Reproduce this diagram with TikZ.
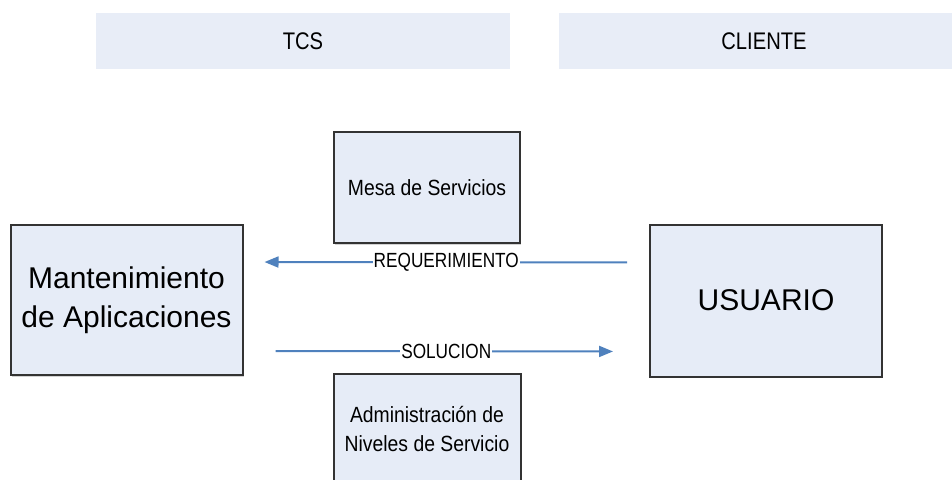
\documentclass[tikz,border=0pt]{standalone}
\usepackage{fontspec}
\setmainfont{Liberation Sans}
\newfontfamily\narrowfont[FakeStretch=0.84]{Liberation Sans}
\newfontfamily\semifont[FakeStretch=0.88]{Liberation Sans}
\usetikzlibrary{positioning, arrows.meta, shadows}

\definecolor{boxfill}{HTML}{E6ECF7}
\definecolor{headfill}{HTML}{E8EDF7}
\definecolor{flowblue}{HTML}{4F81BD}
\definecolor{boxline}{HTML}{333333}

\begin{document}
\begin{tikzpicture}[x=1pt, y=-1pt, >={Triangle[length=14pt, width=11pt]},
    header/.style={fill=headfill, minimum height=56pt, inner sep=0pt, font=\narrowfont\fontsize{24}{28}\selectfont},
    block/.style={draw=boxline, line width=2pt, fill=boxfill, inner sep=0pt, align=center,
        drop shadow={shadow xshift=1pt, shadow yshift=-1.5pt, opacity=0.35}},
    flow/.style={->, draw=flowblue, line width=2pt},
    flowlabel/.style={fill=white, inner sep=1pt, font=\narrowfont\fontsize{20.5}{24}\selectfont}]
    \useasboundingbox (0,0) rectangle (952,479);
    \clip (0,0) rectangle (952,479);
    \node[header, minimum width=414pt] (tcs) at (303,41) {TCS};
    \node[header, minimum width=410pt] (cliente) at (764,41) {CLIENTE};
    \node[block, minimum width=232pt, minimum height=150pt, font=\fontsize{30}{39}\selectfont] (mant) at (126.5,300) {Mantenimiento\\de Aplicaciones};
    \node[block, minimum width=232pt, minimum height=152pt, font=\fontsize{30}{36}\selectfont] (usuario) at (766,300.5) {USUARIO};
    \node[block, minimum width=186pt, minimum height=111pt, font=\semifont\fontsize{22}{26}\selectfont] (mesa) at (427,187.5) {Mesa de Servicios};
    \node[block, below=129pt of mesa, minimum width=187pt, minimum height=110pt, font=\semifont\fontsize{22}{29}\selectfont] (admin) {Administración de\\Niveles de Servicio};
    \draw[flow, shorten <=22pt, shorten >=21pt] ([yshift=38pt]usuario.west) -- node[flowlabel] (req) {REQUERIMIENTO} ([yshift=38pt]mant.east);
    \draw[flow, shorten <=32pt, shorten >=36pt] ([yshift=-51pt]mant.east) -- node[flowlabel] (sol) {SOLUCION} ([yshift=-51pt]usuario.west);
\end{tikzpicture}
\end{document}
